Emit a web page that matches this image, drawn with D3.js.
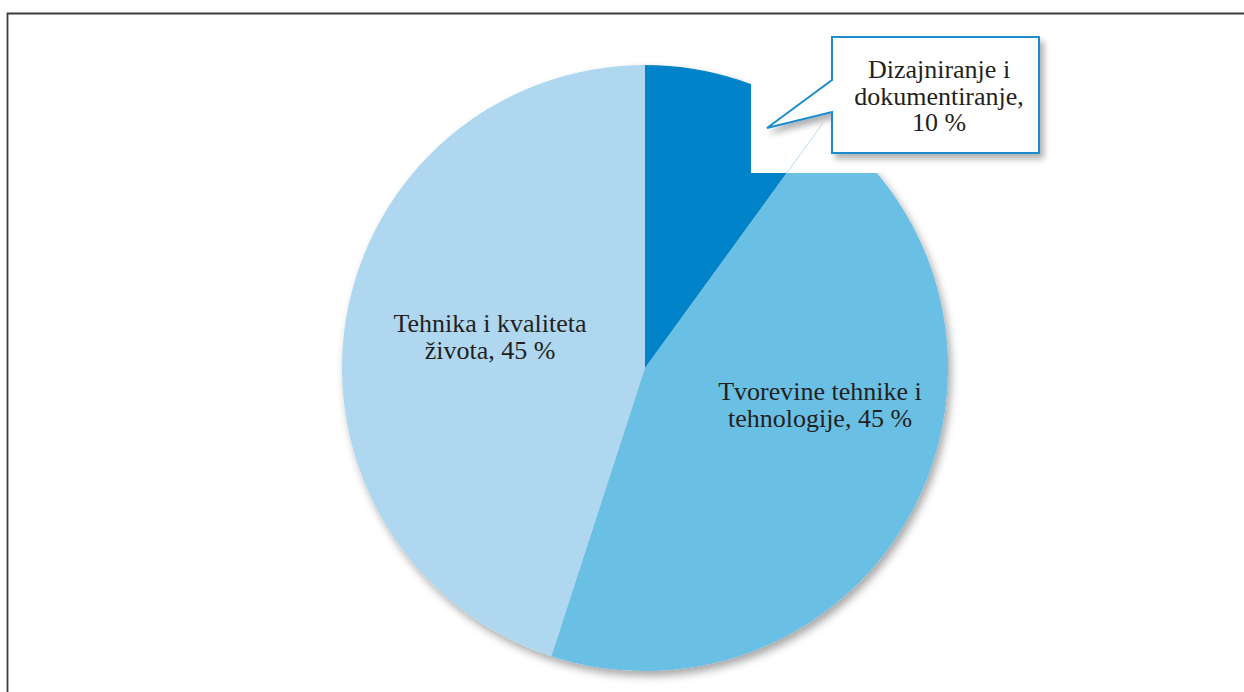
<!DOCTYPE html>
<html>
<head>
<meta charset="utf-8">
<script src="https://cdn.jsdelivr.net/npm/d3@7"></script>
</head>
<body style="margin:0">
<svg id="chart"></svg>
<script>
// Data
const categories = ['Dizajniranje i dokumentiranje', 'Tvorevine tehnike i tehnologije', 'Tehnika i kvaliteta života'];
const values = [10, 45, 45];
const labelLines = [
    ['Dizajniranje i', 'dokumentiranje,', '10 %'],
    ['Tvorevine tehnike i', 'tehnologije, 45 %'],
    ['Tehnika i kvaliteta', 'života, 45 %']
];
const colors = ['#0083c9', '#6abfe4', '#afd7ef'];

// Layout
const width = 1244, height = 692;
const cx = 645, cy = 368, radius = 303;
const fontSize = 26, lineGap = 26.5;
// label centres (first baseline) relative to the pie centre, placed by hand like the original
const labelPos = [null, [175, 32], [-155, -36]];

const svg = d3.select('#chart').attr('width', width).attr('height', height);
const defs = svg.append('defs');

const pieShadow = defs.append('filter').attr('id', 'pieShadow')
    .attr('x', '-10%').attr('y', '-10%').attr('width', '130%').attr('height', '130%');
pieShadow.append('feDropShadow').attr('dx', 3).attr('dy', 5).attr('stdDeviation', 4)
    .attr('flood-color', '#000').attr('flood-opacity', 0.35);

const boxShadow = defs.append('filter').attr('id', 'boxShadow')
    .attr('x', '-20%').attr('y', '-20%').attr('width', '150%').attr('height', '150%');
boxShadow.append('feDropShadow').attr('dx', 4).attr('dy', 5).attr('stdDeviation', 3)
    .attr('flood-color', '#000').attr('flood-opacity', 0.3);

// Frame (top + left only)
svg.append('path')
    .attr('d', `M7.5,${height} L7.5,13.5 L${width},13.5`)
    .attr('fill', 'none').attr('stroke', '#3c3c3c').attr('stroke-width', 1.8);

// Pie
const pie = d3.pie().sort(null).value(d => d);
const arcs = pie(values);
const arc = d3.arc().innerRadius(0).outerRadius(radius);

const g = svg.append('g').attr('transform', `translate(${cx},${cy})`);
g.append('g').attr('filter', 'url(#pieShadow)')
    .selectAll('path').data(arcs).join('path')
    .attr('d', arc)
    .attr('fill', (d, i) => colors[i]);

// White background of the first data label, covering part of the pie
const rectX = 751 - cx, rectY = 60 - cy, rectW = 130, rectH = 173 - 60;
defs.append('clipPath').attr('id', 'labelClip')
    .append('rect').attr('x', rectX).attr('y', rectY).attr('width', rectW).attr('height', rectH);
g.append('rect').attr('x', rectX).attr('y', rectY).attr('width', rectW).attr('height', rectH)
    .attr('fill', '#fff');
// faint slice boundary visible through the label background
const a1 = arcs[0].endAngle;
g.append('line').attr('clip-path', 'url(#labelClip)')
    .attr('x1', 0).attr('y1', 0)
    .attr('x2', radius * Math.sin(a1)).attr('y2', -radius * Math.cos(a1))
    .attr('stroke', '#a9d6ef').attr('stroke-width', 0.8);

// one <text> per line
function multiline(sel, x, y, lines) {
    lines.forEach((line, j) => {
        sel.append('text').attr('text-anchor', 'middle')
            .attr('x', x).attr('y', y + j * lineGap)
            .attr('font-size', fontSize)
            .style('font-family', '"Liberation Serif"')
            .attr('fill', '#231f20')
            .text(line);
    });
}

// Slice labels inside the pie
[1, 2].forEach(i => multiline(g, labelPos[i][0], labelPos[i][1], labelLines[i]));

// Callout for the small slice
const bx0 = 832, by0 = 37, bx1 = 1039, by1 = 153;
const tip = [767, 128];
const callout = `M${bx0},${by0} L${bx1},${by0} L${bx1},${by1} L${bx0},${by1} L${bx0},112 L${tip[0]},${tip[1]} L${bx0},80 Z`;
svg.append('path').attr('d', callout)
    .attr('fill', '#fff').attr('stroke', '#1b8ccf').attr('stroke-width', 2)
    .attr('stroke-linejoin', 'miter')
    .attr('filter', 'url(#boxShadow)');

multiline(svg, 939, 78, labelLines[0]);
</script>
</body>
</html>
